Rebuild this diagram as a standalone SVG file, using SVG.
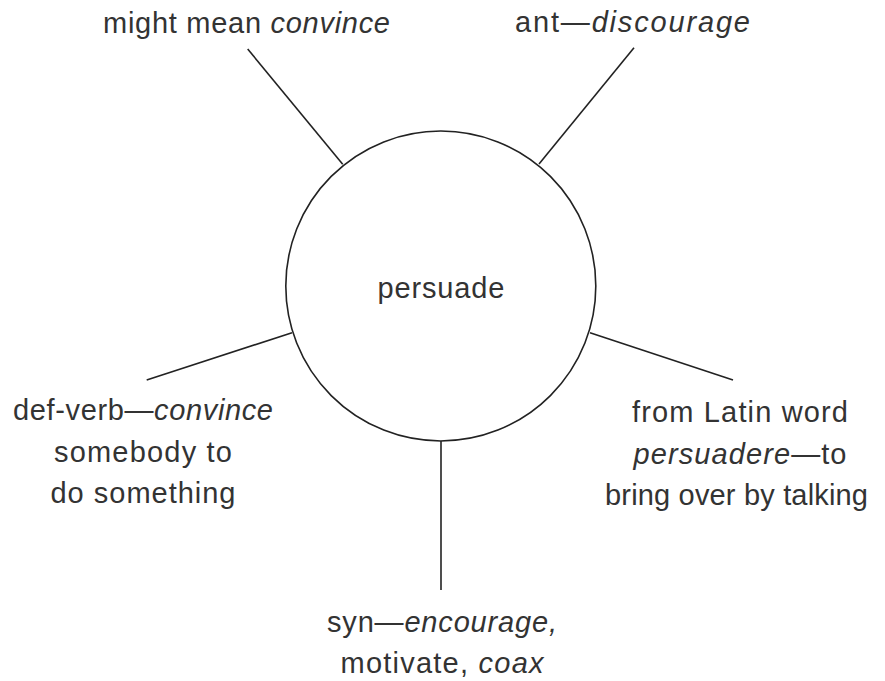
<svg xmlns="http://www.w3.org/2000/svg" width="885" height="681" viewBox="0 0 885 681">
<style>
text{font-family:"Liberation Sans","Open Sans",sans-serif;font-size:29px;fill:#333;text-anchor:middle}
.i{font-style:italic}
.ln{stroke:#222;stroke-width:1.6;fill:none}
</style>
<rect width="885" height="681" fill="#fff"/>
<g id="connectors">
<line class="ln" x1="247.7" y1="49" x2="342.7" y2="164.3"/>
<line class="ln" x1="634" y1="47.7" x2="539" y2="164"/>
<line class="ln" x1="146.7" y1="380" x2="292" y2="332.7"/>
<line class="ln" x1="733" y1="380" x2="590" y2="332.7"/>
<line class="ln" x1="441" y1="441" x2="441" y2="590"/>
</g>
<g id="center">
<circle class="ln" cx="440.8" cy="286" r="155"/>
<text x="441" y="298" textLength="127" lengthAdjust="spacing">persuade</text>
</g>
<g id="n-top-left">
<text x="246.5" y="33" textLength="287" lengthAdjust="spacing">might mean <tspan class="i">convince</tspan></text>
</g>
<g id="n-top-right">
<text x="632.5" y="32" textLength="235" lengthAdjust="spacing">ant—<tspan class="i">discourage</tspan></text>
</g>
<g id="n-left">
<text x="143" y="420" textLength="260" lengthAdjust="spacing">def-verb—<tspan class="i">convince</tspan></text>
<text x="143" y="462" textLength="178" lengthAdjust="spacing">somebody to</text>
<text x="143" y="503" textLength="185" lengthAdjust="spacing">do something</text>
</g>
<g id="n-right">
<text x="740" y="422" textLength="216" lengthAdjust="spacing">from Latin word</text>
<text x="740" y="464" textLength="213" lengthAdjust="spacing"><tspan class="i">persuadere</tspan>—to</text>
<text x="736.5" y="505" textLength="263" lengthAdjust="spacing">bring over by talking</text>
</g>
<g id="n-bottom">
<text x="442" y="632" textLength="230" lengthAdjust="spacing">syn—<tspan class="i">encourage,</tspan></text>
<text x="442" y="673" textLength="203" lengthAdjust="spacing">motivate, <tspan class="i">coax</tspan></text>
</g>
</svg>
